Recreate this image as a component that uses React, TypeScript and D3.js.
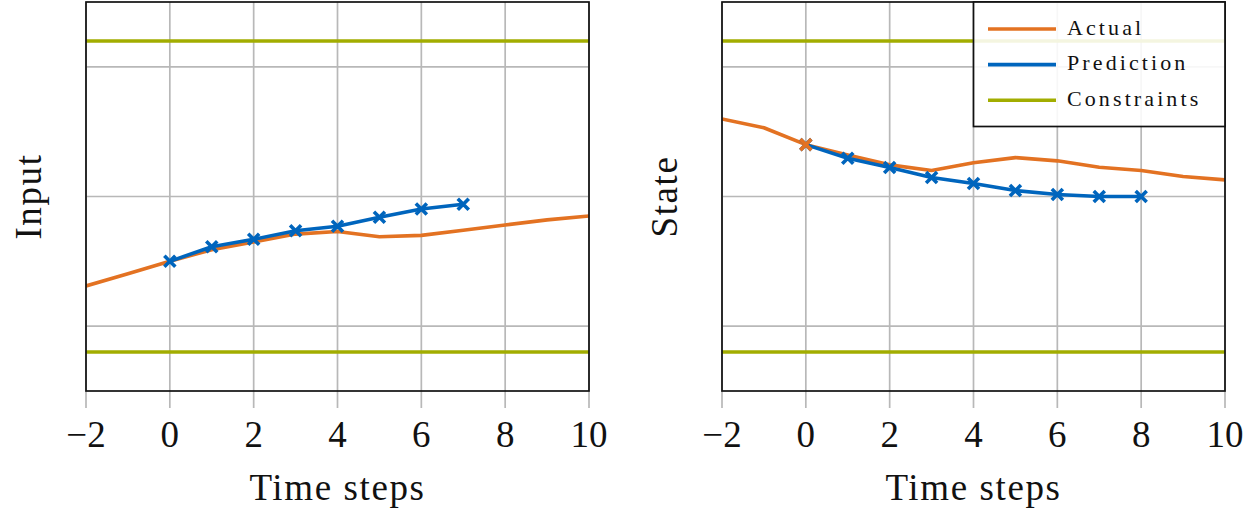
import React from "react";
import * as d3 from "d3";

const xTicks = [-2, 0, 2, 4, 6, 8, 10];
const yGrid = [-1, 0, 1];
const constraintLevels = [-1.2, 1.2];

const actualSteps = [-2, -1, 0, 1, 2, 3, 4, 5, 6, 7, 8, 9, 10];
const inputActual = [-0.69, -0.595, -0.5, -0.41, -0.35, -0.29, -0.27, -0.31, -0.3, -0.26, -0.22, -0.18, -0.15];
const inputPredSteps = [0, 1, 2, 3, 4, 5, 6, 7];
const inputPred = [-0.5, -0.387, -0.33, -0.264, -0.23, -0.16, -0.097, -0.06];

const stateActual = [0.598, 0.53, 0.4, 0.32, 0.244, 0.2, 0.26, 0.3, 0.275, 0.226, 0.2, 0.154, 0.128];
const statePredSteps = [0, 1, 2, 3, 4, 5, 6, 7, 8];
const statePred = [0.4, 0.295, 0.223, 0.146, 0.1, 0.046, 0.015, 0.0, 0.0];
const stateInitialStep = [0];
const stateInitial = [0.4];

const legendLabels = ["Actual", "Prediction", "Constraints"];

const ORANGE = "#E37222";
const BLUE = "#0065BD";
const OLIVE = "#A2AD00";
const GRID = "#b8b8b8";
const FONT = "'Liberation Serif', serif";

type PanelProps = {
  left: number;
  right: number;
  ylabel: string;
  actual: number[];
  predX: number[];
  pred: number[];
  extraX?: number[];
  extraY?: number[];
  legend?: boolean;
};

const TOP = 2;
const BOTTOM = 391;

function Cross({ x, y, color }: { x: number; y: number; color: string }) {
  const r = 5.5;
  return (
    <path
      d={`M${x - r},${y - r}L${x + r},${y + r}M${x - r},${y + r}L${x + r},${y - r}`}
      stroke={color}
      strokeWidth={3.6}
      fill="none"
    />
  );
}

function Panel({ left, right, ylabel, actual, predX, pred, extraX, extraY, legend }: PanelProps) {
  const x = d3.scaleLinear().domain([-2, 10]).range([left, right]);
  const y = d3.scaleLinear().domain([-1.5, 1.5]).range([BOTTOM, TOP]);
  const line = d3
    .line<[number, number]>()
    .x((d) => x(d[0]))
    .y((d) => y(d[1]));
  const actualPts = actualSteps.map((s, i) => [s, actual[i]] as [number, number]);
  const predPts = predX.map((s, i) => [s, pred[i]] as [number, number]);
  const midX = (left + right) / 2;
  const midY = (TOP + BOTTOM) / 2;
  const clipId = `clip-${ylabel}`;
  return (
    <g>
      <defs>
        <clipPath id={clipId}>
          <rect x={left} y={TOP} width={right - left} height={BOTTOM - TOP} />
        </clipPath>
      </defs>
      {xTicks.map((t) => (
        <line key={"gx" + t} x1={x(t)} x2={x(t)} y1={TOP} y2={BOTTOM + 17} stroke={GRID} strokeWidth={1.7} />
      ))}
      {yGrid.map((t) => (
        <line key={"gy" + t} x1={left} x2={right} y1={y(t)} y2={y(t)} stroke={GRID} strokeWidth={1.7} />
      ))}
      <g clipPath={`url(#${clipId})`}>
        {constraintLevels.map((c) => (
          <line key={"c" + c} x1={left} x2={right} y1={y(c)} y2={y(c)} stroke={OLIVE} strokeWidth={3.5} />
        ))}
        <path d={line(actualPts) || ""} stroke={ORANGE} strokeWidth={3.6} fill="none" strokeLinejoin="round" />
        <path d={line(predPts) || ""} stroke={BLUE} strokeWidth={3.6} fill="none" strokeLinejoin="round" />
        {predPts.map((p, i) => (
          <Cross key={"m" + i} x={x(p[0])} y={y(p[1])} color={BLUE} />
        ))}
        {extraX &&
          extraY &&
          extraX.map((s, i) => <Cross key={"e" + i} x={x(s)} y={y(extraY[i])} color={ORANGE} />)}
      </g>
      <rect x={left} y={TOP} width={right - left} height={BOTTOM - TOP} fill="none" stroke="#111" strokeWidth={1.7} />
      {xTicks.map((t) => (
        <text
          key={"tl" + t}
          x={x(t)}
          y={447}
          textAnchor="middle"
          fontFamily={FONT}
          fontSize={37}
          fill="#111"
        >
          {t < 0 ? "\u2212" + Math.abs(t) : String(t)}
        </text>
      ))}
      <text x={midX} y={500} textAnchor="middle" fontFamily={FONT} fontSize={37} letterSpacing={1.6} fill="#111">
        Time steps
      </text>
      <text
        transform={`translate(${left - 45},${midY}) rotate(-90)`}
        textAnchor="middle"
        fontFamily={FONT}
        fontSize={37}
        letterSpacing={1.6}
        fill="#111"
      >
        {ylabel}
      </text>
      {legend && (
        <g>
          <rect x={973.5} y={TOP} width={right - 973.5} height={124.5} fill="white" fillOpacity={0.88} stroke="#111" strokeWidth={1.7} />
          {legendLabels.map((lab, i) => {
            const cy = 29 + i * 35.6;
            const col = [ORANGE, BLUE, OLIVE][i];
            return (
              <g key={lab}>
                <line x1={988} x2={1056} y1={cy} y2={cy} stroke={col} strokeWidth={3.6} />
                <text x={1067} y={cy + 5.5} fontFamily={FONT} fontSize={22} letterSpacing={3.1} fill="#111">
                  {lab}
                </text>
              </g>
            );
          })}
        </g>
      )}
    </g>
  );
}

export default function App() {
  return (
    <svg
      width={1260}
      height={514}
      style={{ position: "absolute", left: 0, top: 0, display: "block", background: "white" }}
    >
      <rect x={0} y={0} width={1260} height={514} fill="white" />
      <Panel left={86} right={589} ylabel="Input" actual={inputActual} predX={inputPredSteps} pred={inputPred} />
      <Panel
        left={722}
        right={1225}
        ylabel="State"
        actual={stateActual}
        predX={statePredSteps}
        pred={statePred}
        extraX={stateInitialStep}
        extraY={stateInitial}
        legend
      />
    </svg>
  );
}
